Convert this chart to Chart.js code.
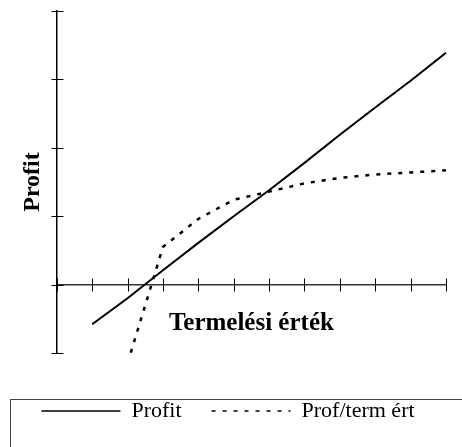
<!DOCTYPE html>
<html>
<head>
<meta charset="utf-8">
<script src="https://cdn.jsdelivr.net/npm/chart.js@4/dist/chart.umd.min.js"></script>
<style>
  body { margin: 0; background: #fff; }
  canvas { display: block; }
</style>
</head>
<body>
<canvas id="myChart" width="462" height="447"></canvas>
<script>
// Category positions along the production value axis (labels are hidden)
const categories = ['0', '1', '2', '3', '4', '5', '6', '7', '8', '9', '10', '11'];
// Values, in y-axis units (one unit per tick)
const profitValues = [null, -0.58, -0.2, 0.21, 0.61, 1.0, 1.38, 1.78, 2.19, 2.59, 2.98, 3.39];
const profTermValues = [null, null, -1.15, 0.55, 0.96, 1.24, 1.36, 1.48, 1.56, 1.61, 1.64, 1.67];
const yTicks = { min: -1, max: 4, step: 1 };

const serif = "'Liberation Serif', 'Times New Roman', serif";

// Ticks in the original cross the axis line, so draw them from the scales here
const crossTicks = {
  id: 'crossTicks',
  afterDatasetsDraw(chart) {
    const { ctx, scales: { x, y } } = chart;
    const zeroY = Math.round(y.getPixelForValue(0)) + 0.5;
    const axisX = Math.round(chart.chartArea.left) + 0.5;
    ctx.save();
    ctx.strokeStyle = '#000';
    ctx.lineWidth = 1;
    ctx.beginPath();
    x.ticks.forEach((t, i) => {
      const px = Math.round(x.getPixelForTick(i)) + 0.5;
      ctx.moveTo(px, zeroY - 7);
      ctx.lineTo(px, zeroY + 6);
    });
    y.ticks.forEach((t, i) => {
      const py = Math.round(y.getPixelForTick(i)) + 0.5;
      ctx.moveTo(axisX - 6, py);
      ctx.lineTo(axisX + 6, py);
    });
    ctx.stroke();
    ctx.restore();
  }
};

// Frame round the legend, running off the bottom and right edge like the original
const legendFrame = {
  id: 'legendFrame',
  afterDraw(chart) {
    const lg = chart.legend;
    const ctx = chart.ctx;
    const top = Math.round(lg.legendHitBoxes[0].top - 1) + 0.5;
    ctx.save();
    ctx.strokeStyle = '#444';
    ctx.lineWidth = 1;
    ctx.strokeRect(Math.round(lg.left) + 0.5, top, chart.width, chart.height);
    ctx.restore();
  }
};

const ctx = document.getElementById('myChart');

new Chart(ctx, {
  type: 'line',
  data: {
    labels: categories,
    datasets: [
      {
        label: 'Profit',
        data: profitValues,
        borderColor: '#000',
        backgroundColor: '#000',
        borderWidth: 2,
        pointRadius: 0,
        tension: 0
      },
      {
        label: 'Prof/term ért',
        data: profTermValues,
        borderColor: '#000',
        backgroundColor: '#000',
        borderWidth: 2.5,
        borderDash: [4, 7],
        pointRadius: 0,
        tension: 0
      }
    ]
  },
  options: {
    responsive: false,
    animation: false,
    devicePixelRatio: 1,
    layout: { padding: { left: 10, right: 16, top: 11, bottom: 15 } },
    plugins: {
      tooltip: { enabled: false },
      legend: {
        position: 'bottom',
        // empty title only pushes the legend row down from the plot
        title: { display: true, text: '', font: { size: 10 }, padding: { top: 0, bottom: 5 } },
        labels: {
          // flat box, so the stroke becomes a (dashed) line sample
          boxWidth: 79,
          boxHeight: 0,
          padding: 30,
          color: '#000',
          font: { family: serif, size: 22 },
          generateLabels(chart) {
            const items = Chart.defaults.plugins.legend.labels.generateLabels(chart);
            items.forEach(item => {
              item.lineWidth = 1.5;
              item.fillStyle = 'rgba(0,0,0,0)';
            });
            return items;
          }
        }
      }
    },
    scales: {
      x: {
        position: { y: 0 },
        offset: false,
        grid: { display: true, drawOnChartArea: false, drawTicks: false },
        border: { display: true, color: '#333', width: 1.5 },
        ticks: { display: false, autoSkip: false },
        title: {
          display: true,
          text: 'Termelési érték',
          color: '#000',
          font: { family: serif, size: 25, weight: 'bold' },
          padding: { top: 24, bottom: 0 }
        }
      },
      y: {
        position: 'left',
        min: yTicks.min,
        max: yTicks.max,
        grid: { display: true, drawOnChartArea: false, drawTicks: false },
        border: { display: true, color: '#000', width: 1.5 },
        ticks: { display: false, stepSize: yTicks.step },
        title: {
          display: true,
          text: 'Profit',
          color: '#000',
          font: { family: serif, size: 24, weight: 'bold' },
          padding: { top: 8.5, bottom: 9.5 }
        }
      }
    }
  },
  plugins: [crossTicks, legendFrame]
});
</script>
</body>
</html>
